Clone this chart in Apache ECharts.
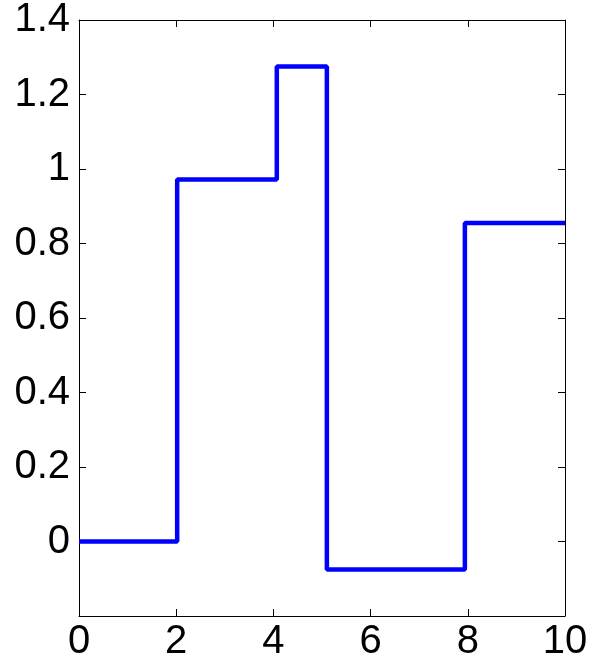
<!DOCTYPE html>
<html>
<head>
<meta charset="utf-8">
<script src="https://cdn.jsdelivr.net/npm/echarts@6/dist/echarts.min.js"></script>
<style>
html, body { margin: 0; padding: 0; background: #fff; }
#chart { width: 600px; height: 662px; }
</style>
</head>
<body>
<div id="chart"></div>
<script>
// step signal: value y[i] is held from x[i] to x[i+1]
var stepX = [0, 2.02, 4.07, 5.10, 7.94, 10];
var stepY = [0, 0.972, 1.275, -0.075, 0.855, 0.855];
var xTicks = ['0', '2', '4', '6', '8', '10'];
var yTicks = { '-0.2': '', '0': '0', '0.2': '0.2', '0.4': '0.4', '0.6': '0.6', '0.8': '0.8', '1': '1', '1.2': '1.2', '1.4': '1.4' };

var font = 'Liberation Sans, Arial, Helvetica, sans-serif';
var seriesData = stepX.map(function (x, i) { return [x, stepY[i]]; });

var boxAxis = {
    axisLine: { show: true, onZero: false, lineStyle: { color: '#000', width: 1 } },
    axisTick: { show: true, inside: true, length: 7, lineStyle: { color: '#000', width: 1 } },
    splitLine: { show: false }
};

var option = {
    animation: false,
    grid: { left: 79, right: 35, top: 20, bottom: 41 },
    xAxis: [
        Object.assign({
            type: 'value', min: 0, max: 10, interval: 2, position: 'bottom',
            axisLabel: {
                color: '#000', fontSize: 40, fontFamily: font, margin: 6,
                formatter: function (v) { return xTicks[Math.round(v / 2)]; }
            }
        }, boxAxis),
        Object.assign({
            type: 'value', min: 0, max: 10, interval: 2, position: 'top',
            axisLabel: { show: false }
        }, boxAxis)
    ],
    yAxis: [
        Object.assign({
            type: 'value', min: -0.2, max: 1.4, interval: 0.2, position: 'left',
            axisLabel: {
                color: '#000', fontSize: 40, fontFamily: font, margin: 9,
                formatter: function (v) { return yTicks[String(Math.round(v * 10) / 10)]; }
            }
        }, boxAxis),
        Object.assign({
            type: 'value', min: -0.2, max: 1.4, interval: 0.2, position: 'right',
            axisLabel: { show: false }
        }, boxAxis)
    ],
    series: [{
        type: 'line',
        step: 'end',
        data: seriesData,
        showSymbol: false,
        lineStyle: { color: '#0000ff', width: 4.5 }
    }]
};

var dom = echarts.init(document.getElementById('chart'));
dom.setOption(option);
</script>
</body>
</html>
